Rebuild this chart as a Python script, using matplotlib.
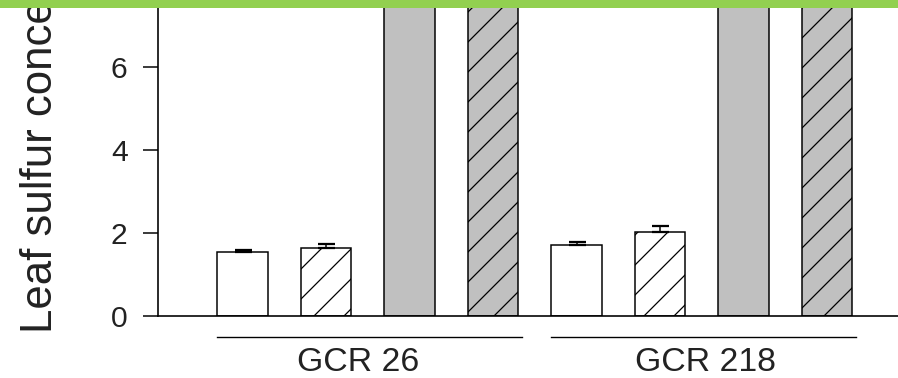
import matplotlib
matplotlib.use("Agg")
import matplotlib.pyplot as plt
from matplotlib.patches import Rectangle

# ---- data ----
groups = ["GCR 26", "GCR 218"]
treatments = ["white", "white hatched", "grey", "grey hatched"]
values_gcr26 = [1.54, 1.64, 9.5, 9.5]
errors_gcr26 = [0.05, 0.09, 0.0, 0.0]
values_gcr218 = [1.70, 2.03, 9.5, 9.5]
errors_gcr218 = [0.08, 0.13, 0.0, 0.0]
yticks = [0, 2, 4, 6]
ylabel = "Leaf sulfur conce"

DPI = 180
W, H = 898, 378
plt.rcParams["font.family"] = ["Liberation Sans", "DejaVu Sans"]
plt.rcParams["hatch.linewidth"] = 0.5
plt.rcParams["hatch.color"] = "black"

fig = plt.figure(figsize=(W / DPI, H / DPI), dpi=DPI)
fig.patch.set_facecolor("white")
ax = fig.add_axes([158 / W, (H - 316) / H, 1 - 158 / W, 316 / H])

fills = ["white", "white", "#c0c0c0", "#c0c0c0"]
hatches = [None, "//", None, "//"]
bw = 0.61

all_vals = [values_gcr26, values_gcr218]
all_errs = [errors_gcr26, errors_gcr218]
for g, (vals, errs) in enumerate(zip(all_vals, all_errs)):
    for i, (v, e) in enumerate(zip(vals, errs)):
        x = g * 4 + i
        ax.bar(x, v, width=bw, color=fills[i], edgecolor="black",
               linewidth=0.6, hatch=hatches[i], zorder=2)
        if e > 0:
            ax.errorbar(x, v, yerr=[[0], [e]], fmt="none", ecolor="black",
                        elinewidth=0.6, capsize=3.4, capthick=0.9, zorder=3)

ax.set_xlim(-1.012, 7.85)
ax.set_ylim(0, 7.614)
ax.set_yticks(yticks)
ax.set_yticklabels([str(t) for t in yticks], fontsize=12, color="#222222")
ax.tick_params(axis="y", direction="out", length=6, width=0.6, pad=6.2)
ax.tick_params(axis="x", length=0, labelbottom=False)
ax.spines["top"].set_visible(False)
ax.spines["right"].set_visible(False)
ax.spines["left"].set_linewidth(0.65)
ax.spines["bottom"].set_linewidth(0.65)

# group underlines and labels
centers = [1.5, 5.5]
label_x = [1.38, 5.54]
for c, lx, name in zip(centers, label_x, groups):
    ax.plot([c - 1.805, c + 1.85], [-0.5, -0.5], color="black", lw=0.55,
            clip_on=False)
    ax.text(lx, -1.325, name, ha="center", va="baseline", fontsize=13.5,
            color="#222222", clip_on=False)

fig.text(20 / W, 1 - 333 / H, ylabel, rotation=90, ha="left", va="bottom",
         fontsize=17.5, color="#222222")

# green band at top
fig.patches.append(Rectangle((0, 1 - 8 / H), 1, 8 / H, transform=fig.transFigure,
                             facecolor="#92d050", edgecolor="none", zorder=10))

fig.savefig("out.png", dpi=DPI)
